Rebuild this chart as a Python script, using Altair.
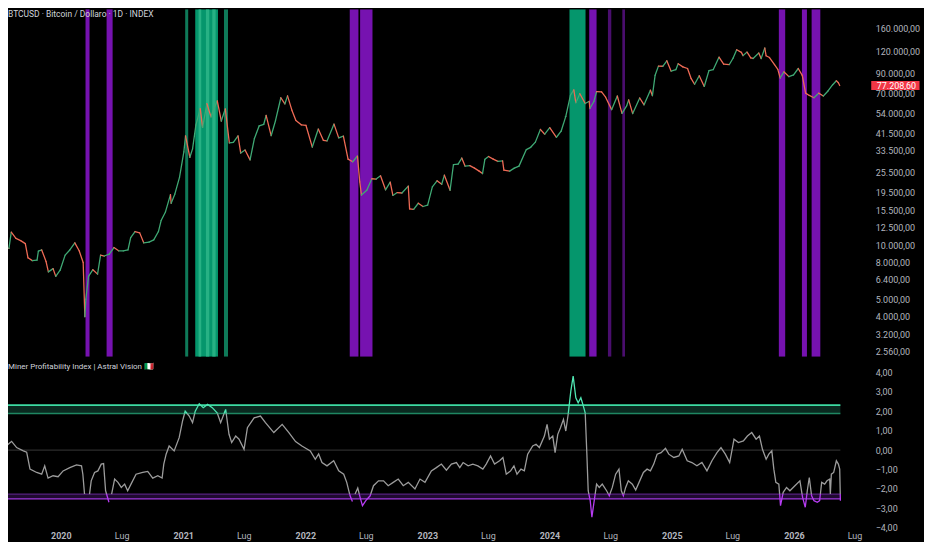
import altair as alt
import numpy as np
import pandas as pd

# ----------------------------------------------------------------- data
ORIGIN = "2019-07-01"  # oscillator / band day offsets count from this date

price_2019 = [("2019-07-01", 11900), ("2019-07-09", 12600), ("2019-07-17", 9700), ("2019-07-30", 9600),
              ("2019-08-06", 11800), ("2019-08-20", 10900), ("2019-09-03", 10600), ("2019-09-17", 10200),
              ("2019-09-25", 8500), ("2019-10-08", 8200), ("2019-10-22", 8250), ("2019-10-26", 9250),
              ("2019-11-05", 9400), ("2019-11-18", 8100), ("2019-11-25", 7100), ("2019-12-09", 7400),
              ("2019-12-17", 6700), ("2019-12-30", 7250)]
price_2020 = [("2020-01-14", 8800), ("2020-01-28", 9400), ("2020-02-12", 10300), ("2020-02-25", 9300),
              ("2020-03-08", 8000), ("2020-03-13", 4000), ("2020-03-16", 5000), ("2020-03-24", 6700),
              ("2020-04-06", 7300), ("2020-04-20", 6900), ("2020-04-29", 8800), ("2020-05-10", 8700),
              ("2020-05-25", 8900), ("2020-06-08", 9700), ("2020-06-22", 9300), ("2020-07-06", 9300),
              ("2020-07-20", 9400), ("2020-07-28", 11000), ("2020-08-10", 11900), ("2020-08-24", 11700),
              ("2020-09-05", 10300), ("2020-09-21", 10400), ("2020-10-05", 10700), ("2020-10-19", 11900),
              ("2020-10-27", 13700), ("2020-11-09", 15300), ("2020-11-24", 19100), ("2020-11-26", 17100),
              ("2020-12-07", 19200), ("2020-12-21", 23800)]
price_2021 = [("2021-01-03", 33000), ("2021-01-08", 40500), ("2021-01-21", 30800), ("2021-01-29", 34300),
              ("2021-02-08", 46500), ("2021-02-21", 57400), ("2021-02-28", 45200), ("2021-03-13", 61200),
              ("2021-03-25", 51700), ("2021-04-05", 58700), ("2021-04-13", 63500), ("2021-04-25", 49000),
              ("2021-05-07", 57300), ("2021-05-19", 37000), ("2021-05-31", 37300), ("2021-06-14", 40500),
              ("2021-06-22", 32500), ("2021-07-05", 33800), ("2021-07-20", 29800), ("2021-08-02", 39200),
              ("2021-08-16", 46000), ("2021-08-30", 47000), ("2021-09-06", 52700), ("2021-09-21", 40600),
              ("2021-10-04", 49200), ("2021-10-20", 66000), ("2021-11-01", 61000), ("2021-11-09", 67600),
              ("2021-11-22", 56300), ("2021-12-04", 49400), ("2021-12-20", 46700)]
price_2022 = [("2022-01-03", 46400), ("2022-01-22", 35100), ("2022-02-09", 44200), ("2022-02-24", 38300),
              ("2022-03-07", 38000), ("2022-03-28", 47100), ("2022-04-11", 39500), ("2022-04-25", 40400),
              ("2022-05-09", 30100), ("2022-05-23", 29100), ("2022-06-06", 31300), ("2022-06-13", 22500),
              ("2022-06-18", 19000), ("2022-07-04", 20200), ("2022-07-19", 23400), ("2022-08-01", 23300),
              ("2022-08-14", 24300), ("2022-08-29", 20300), ("2022-09-12", 22400), ("2022-09-20", 18900),
              ("2022-10-03", 19600), ("2022-10-17", 19500), ("2022-11-05", 21300), ("2022-11-09", 15900),
              ("2022-11-21", 15800), ("2022-12-05", 17100), ("2022-12-19", 16400)]
price_2023 = [("2023-01-02", 16700), ("2023-01-16", 21100), ("2023-01-30", 22800), ("2023-02-13", 21800),
              ("2023-02-21", 24500), ("2023-03-10", 20200), ("2023-03-20", 28000), ("2023-04-03", 28200),
              ("2023-04-14", 30500), ("2023-04-24", 27500), ("2023-05-08", 27700), ("2023-05-22", 26800),
              ("2023-06-05", 25800), ("2023-06-15", 25000), ("2023-06-22", 30000), ("2023-07-03", 31100),
              ("2023-07-17", 30100), ("2023-07-31", 29200), ("2023-08-14", 29400), ("2023-08-18", 26100),
              ("2023-09-04", 25800), ("2023-09-18", 26800), ("2023-10-02", 27500), ("2023-10-24", 34000),
              ("2023-11-06", 35000), ("2023-11-20", 37400), ("2023-12-05", 44000), ("2023-12-18", 41400)]
price_2024 = [("2024-01-02", 45000), ("2024-01-22", 39800), ("2024-02-05", 43000), ("2024-02-19", 52000),
              ("2024-03-04", 68300), ("2024-03-14", 73000), ("2024-03-20", 62000), ("2024-04-01", 69500),
              ("2024-04-17", 61300), ("2024-04-29", 63100), ("2024-05-01", 57500), ("2024-05-13", 62900),
              ("2024-05-21", 71400), ("2024-06-05", 71100), ("2024-06-17", 66500), ("2024-07-05", 56700),
              ("2024-07-22", 67500), ("2024-08-05", 54000), ("2024-08-19", 59500), ("2024-08-25", 64200),
              ("2024-09-06", 53900), ("2024-09-27", 65800), ("2024-10-10", 60300), ("2024-10-29", 72700),
              ("2024-11-04", 67800), ("2024-11-12", 88000), ("2024-11-22", 99000), ("2024-12-05", 98800),
              ("2024-12-17", 106000), ("2024-12-30", 92800)]
price_2025 = [("2025-01-13", 94500), ("2025-01-20", 102000), ("2025-02-03", 98000), ("2025-02-17", 96000),
              ("2025-02-28", 84300), ("2025-03-10", 78500), ("2025-03-24", 87500), ("2025-04-08", 76300),
              ("2025-04-22", 93500), ("2025-05-05", 94700), ("2025-05-22", 111000), ("2025-06-05", 101500),
              ("2025-06-22", 101000), ("2025-07-03", 109500), ("2025-07-14", 122000), ("2025-07-28", 118000),
              ("2025-08-02", 113200), ("2025-08-14", 118500), ("2025-08-25", 110000), ("2025-09-01", 109200),
              ("2025-09-18", 117000), ("2025-09-25", 109000), ("2025-10-06", 124800), ("2025-10-10", 113000),
              ("2025-10-20", 110500), ("2025-11-04", 101000), ("2025-11-14", 95000), ("2025-11-21", 85000),
              ("2025-12-02", 92000), ("2025-12-17", 86500), ("2025-12-31", 88500)]
price_2026 = [("2026-01-14", 96000), ("2026-01-26", 88000), ("2026-02-05", 70000), ("2026-02-16", 68000),
              ("2026-03-02", 66000), ("2026-03-16", 70000), ("2026-03-30", 67500), ("2026-04-13", 72000),
              ("2026-04-27", 78000), ("2026-05-08", 82000), ("2026-05-14", 80000), ("2026-05-18", 77208.60)]

# oscillator: (day offset from ORIGIN, value)
osc_2019_2021 = [(2, 0.81), (12, 0.64), (17, 0.15), (27, 0.30), (37, 0.45), (52, 0.13), (72, -0.04),
                 (82, -0.11), (92, -0.98), (112, -1.15), (127, -1.24), (136, -0.81), (146, -1.44),
                 (161, -1.32), (176, -1.37), (191, -1.07), (211, -0.90), (231, -0.76), (246, -0.81),
                 (250, -1.24), (255, -2.26), (262, -2.81), (270, -2.26), (275, -1.58), (285, -1.15),
                 (295, -1.07), (305, -0.72), (312, -0.69), (318, -2.09), (328, -2.68), (336, -2.26),
                 (345, -1.49), (355, -1.66), (365, -1.92), (375, -1.75), (384, -2.09), (394, -1.75),
                 (409, -1.24), (429, -1.15), (444, -1.10), (459, -1.44), (474, -1.32), (487, -1.44),
                 (492, -0.72), (499, -0.21), (508, 0.21), (523, -0.04), (538, 0.64), (548, 1.49),
                 (556, 2.00), (568, 1.75), (578, 1.41), (586, 2.00), (598, 2.38), (610, 2.18),
                 (623, 2.35), (637, 2.18), (652, 1.90), (662, 1.41), (677, 2.09), (687, 0.81),
                 (695, 0.39), (707, 0.72), (717, 0.56), (732, 0.04), (742, 1.15), (762, 1.66),
                 (781, 1.75), (796, 1.41), (821, 0.90), (846, 1.32), (866, 0.90), (886, 0.44),
                 (905, 0.21), (930, -0.04), (945, -0.47), (955, -0.20)]
osc_2022_2023 = [(965, -0.64), (980, -0.81), (1000, -0.55), (1015, -1.07), (1030, -1.24), (1039, -1.66),
                 (1049, -2.35), (1056, -2.64), (1064, -2.26), (1072, -1.95), (1079, -2.43), (1086, -2.86),
                 (1096, -2.60), (1109, -2.35), (1119, -1.83), (1134, -1.58), (1149, -1.58), (1163, -1.83),
                 (1178, -1.66), (1193, -1.49), (1208, -1.83), (1223, -1.66), (1243, -2.00), (1258, -1.49),
                 (1273, -1.66), (1292, -1.07), (1307, -0.90), (1322, -0.72), (1337, -1.03), (1352, -0.72),
                 (1367, -0.64), (1377, -0.90), (1387, -0.64), (1402, -0.81), (1416, -0.72), (1431, -0.81),
                 (1446, -0.98), (1456, -0.72), (1469, -0.30), (1481, -0.72), (1496, -0.55), (1506, -0.38),
                 (1516, -1.24), (1529, -1.07), (1539, -0.81), (1548, -1.24), (1560, -0.98), (1570, -1.07),
                 (1580, -0.21), (1595, 0.21), (1605, 0.30), (1615, 0.13), (1630, 0.72), (1638, 1.32)]
osc_2024 = [(1645, 0.56), (1655, 0.72), (1662, -0.13), (1670, 0.81), (1678, 1.15), (1687, 1.58),
            (1694, 0.98), (1701, 1.83), (1709, 3.03), (1716, 3.80), (1724, 2.69), (1731, 2.43),
            (1739, 2.69), (1745, 2.35), (1752, 1.92), (1757, -0.21), (1761, -2.09), (1767, -2.60),
            (1772, -3.45), (1779, -2.60), (1786, -1.75), (1794, -1.92), (1803, -1.75), (1816, -2.09),
            (1824, -2.35), (1833, -1.92), (1843, -1.24), (1853, -0.98), (1860, -2.09), (1866, -2.35),
            (1873, -1.92), (1881, -1.58), (1893, -1.75), (1903, -2.05), (1913, -1.66), (1926, -1.15),
            (1937, -0.98), (1947, -1.07), (1957, -0.72), (1967, -0.21), (1979, -0.13), (1992, 0.09),
            (2002, -0.21)]
osc_2025_2026 = [(2017, -0.38), (2032, -0.30), (2042, 0.04), (2057, -0.55), (2071, -0.64), (2086, -0.81),
                 (2101, -0.64), (2116, -1.07), (2131, -0.55), (2146, -0.13), (2158, 0.13), (2171, -0.21),
                 (2184, -0.64), (2197, 0.56), (2210, 0.39), (2225, 0.47), (2237, 0.72), (2250, 0.90),
                 (2263, 0.56), (2273, 0.72), (2282, 0.04), (2293, -0.47), (2301, -0.21), (2310, -0.04),
                 (2316, -0.98), (2322, -1.66), (2331, -1.75), (2336, -2.86), (2344, -2.17), (2354, -1.92),
                 (2364, -2.09), (2379, -1.83), (2394, -1.58), (2402, -2.43), (2410, -2.94), (2416, -2.09),
                 (2422, -1.41), (2429, -2.35), (2436, -2.60), (2446, -2.68), (2453, -2.60), (2459, -1.66),
                 (2468, -1.75), (2475, -1.58), (2483, -1.49), (2485, -2.26), (2488, -1.24), (2495, -1.15),
                 (2503, -0.55), (2509, -0.72), (2513, -0.98), (2515, -2.60)]

# background zones on the price pane: (start day, end day, kind)
zones_bear = [(258, 270, "bear"), (321, 339, "bear"), (1048, 1074, "bear"), (1079, 1116, "bear"),
              (1764, 1786, "bear"), (1820, 1830, "bear_weak"), (1863, 1871, "bear_weak"),
              (2331, 2350, "bear"), (2400, 2415, "bear"), (2429, 2455, "bear")]
zones_bull = [(556, 565, "bull_weak"), (586, 654, "bull"), (596, 604, "bull_strong"),
              (618, 628, "bull_strong"), (637, 647, "bull_strong"), (672, 684, "bull_weak"),
              (1705, 1753, "bull")]

UPPER_OUTER, UPPER_INNER, LOWER_INNER, LOWER_OUTER = 2.31, 1.88, -2.26, -2.51

price_ticks = [2560, 3200, 4000, 5000, 6400, 8000, 10000, 12500, 15500, 19500, 25500, 33500,
               41500, 54000, 70000, 90000, 120000, 160000, 220000]
osc_ticks = [-4, -3, -2, -1, 0, 1, 2, 3, 4]
tick_years = [2020, 2021, 2022, 2023, 2024, 2025, 2026]

chart_title = "BTCUSD · Bitcoin / Dollaro · 1D · INDEX"
osc_title = "Miner Profitability Index | Astral Vision 🇮🇹"

# ----------------------------------------------------------------- helpers
W, H_TOP, H_BOT = 864, 349, 172
FONT = "Roboto"
LABEL = "#b2b5be"


def day_to_iso(day):
    ts = pd.Timestamp(ORIGIN) + pd.to_timedelta(day, unit="D")
    return ts.strftime("%Y-%m-%dT%H:%M:%SZ")


X_SCALE = alt.Scale(type="utc", domain=[
    alt.DateTime(year=2019, month=7, date=27, hours=5, utc=True),
    alt.DateTime(year=2026, month=8, date=11, hours=7, utc=True)])
Y_PRICE = alt.Scale(type="log", domain=[2398, 205270], nice=False)
Y_OSC = alt.Scale(domain=[-4.051, 4.752], nice=False, zero=False)

X_AXIS_BOT = alt.Axis(
    values=[alt.DateTime(year=y, month=m, date=1, utc=True) for y in tick_years for m in (1, 7)],
    labelExpr="utcmonth(datum.value) == 0 ? utcFormat(datum.value, '%Y') : 'Lug'",
    ticks=False, domain=False, grid=False, labelColor=LABEL, labelFontSize=9,
    labelFont=FONT, labelPadding=3, labelOverlap=False, labelFlush=False, title=None,
    labelFontWeight={"condition": {"test": "utcmonth(datum.value) == 0", "value": "bold"},
                     "value": "normal"})
Y_AXIS_BOT = alt.Axis(orient="right", values=osc_ticks, format=",.2f", ticks=False, domain=False,
                      grid=False, labelColor=LABEL, labelFontSize=9, labelFont=FONT,
                      labelPadding=7, labelOverlap=False, title=None)
Y_AXIS_TOP = alt.Axis(orient="right", values=price_ticks, format=",.2f", ticks=False,
                      domain=False, grid=False, labelColor=LABEL, labelFontSize=9,
                      labelFont=FONT, labelPadding=7, labelOverlap=False, title=None)

# ----------------------------------------------------------------- top pane
prices = pd.DataFrame(price_2019 + price_2020 + price_2021 + price_2022 + price_2023
                      + price_2024 + price_2025 + price_2026, columns=["date", "close"])
prices["date"] = prices["date"] + "T00:00:00Z"
seg = prices.copy()
seg["prev_date"] = seg["date"].shift(1)
seg["prev_close"] = seg["close"].shift(1)
seg = seg.dropna().reset_index(drop=True)
seg["dir"] = np.where(seg["close"] >= seg["prev_close"], "up", "down")

zones = pd.DataFrame(zones_bear + zones_bull, columns=["s", "e", "kind"])
zones["start"] = zones["s"].map(day_to_iso)
zones["end"] = zones["e"].map(day_to_iso)
zone_order = {"bull": 0, "bear": 0, "bear_weak": 0, "bull_weak": 0, "bull_strong": 1}
zones["o"] = zones["kind"].map(zone_order)
zones = zones.sort_values("o")

band_layer = alt.Chart(zones).mark_rect(clip=True).encode(
    x=alt.X("start:T", scale=X_SCALE, axis=None),
    x2="end:T",
    y=alt.value(0),
    y2=alt.value(H_TOP),
    color=alt.Color("kind:N", legend=None, scale=alt.Scale(
        domain=["bull", "bull_strong", "bull_weak", "bear", "bear_weak"],
        range=["#05966c", "#27b184", "#0f7a59", "#7612b0", "#4a0e6e"])),
)

price_layer = alt.Chart(seg).mark_rule(strokeWidth=1.3, strokeCap="round", clip=True).encode(
    x=alt.X("prev_date:T", scale=X_SCALE, axis=None),
    x2="date:T",
    y=alt.Y("prev_close:Q", scale=Y_PRICE, axis=Y_AXIS_TOP),
    y2="close:Q",
    color=alt.Color("dir:N", legend=None,
                    scale=alt.Scale(domain=["up", "down"], range=["#3fa874", "#ee6a55"])),
)

last = prices.tail(1)
last_box = alt.Chart(last).mark_rule(strokeWidth=9, color="#f23645").encode(
    x=alt.value(867), x2=alt.value(915.5), y=alt.Y("close:Q", scale=Y_PRICE, axis=Y_AXIS_TOP))
last_text = alt.Chart(last).mark_text(align="left", baseline="middle", fontSize=9, font=FONT,
                                      color="#ffffff").encode(
    x=alt.value(872.5), y=alt.Y("close:Q", scale=Y_PRICE, axis=Y_AXIS_TOP),
    text=alt.Text("close:Q", format=",.2f"))

title_top = alt.Chart(pd.DataFrame({"t": [chart_title]})).mark_text(
    align="left", baseline="middle", fontSize=8.5, font=FONT, color="#d1d4dc").encode(
    x=alt.value(0), y=alt.value(5), text="t:N")

top = alt.layer(band_layer, price_layer, last_box, last_text, title_top).resolve_scale(
    color="independent").properties(width=W, height=H_TOP)

# ----------------------------------------------------------------- bottom pane
osc = pd.DataFrame(osc_2019_2021 + osc_2022_2023 + osc_2024 + osc_2025_2026, columns=["day", "v"])


def zone_of(v):
    if v > UPPER_INNER:
        return "bull"
    if v < LOWER_INNER:
        return "bear"
    return "neutral"


rows = []
run = 0
cur = zone_of(osc.v.iloc[0])
rows.append(dict(run=run, day=float(osc.day.iloc[0]), v=osc.v.iloc[0], zone=cur))
for i in range(1, len(osc)):
    d0, v0 = float(osc.day.iloc[i - 1]), osc.v.iloc[i - 1]
    d1, v1 = float(osc.day.iloc[i]), osc.v.iloc[i]
    if zone_of(v1) != cur:
        crossings = []
        for thr in (UPPER_INNER, LOWER_INNER):
            if (v0 - thr) * (v1 - thr) < 0:
                crossings.append(((thr - v0) / (v1 - v0), thr))
        crossings.sort()
        for t, thr in crossings:
            dc = d0 + t * (d1 - d0)
            rows.append(dict(run=run, day=dc, v=thr, zone=cur))
            run += 1
            cur = zone_of(thr + (0.001 if v1 > v0 else -0.001))
            rows.append(dict(run=run, day=dc, v=thr, zone=cur))
        if zone_of(v1) != cur:
            run += 1
            cur = zone_of(v1)
    rows.append(dict(run=run, day=d1, v=v1, zone=cur))
osc_runs = pd.DataFrame(rows)
osc_runs["date"] = osc_runs["day"].map(day_to_iso)

first_date = day_to_iso(osc.day.iloc[0])
last_date = day_to_iso(osc.day.iloc[-1])

fills = pd.DataFrame({"a": [UPPER_OUTER, LOWER_INNER], "b": [UPPER_INNER, LOWER_OUTER],
                      "kind": ["bull", "bear"], "s": [first_date] * 2, "e": [last_date] * 2})
levels = pd.DataFrame({"lvl": [UPPER_OUTER, UPPER_INNER, 0.0, LOWER_INNER, LOWER_OUTER],
                       "name": ["uo", "ui", "zero", "li", "lo"],
                       "s": [first_date] * 5, "e": [last_date] * 5})

fill_layer = alt.Chart(fills).mark_rect(clip=True).encode(
    x=alt.X("s:T", scale=X_SCALE, axis=X_AXIS_BOT), x2="e:T",
    y=alt.Y("a:Q", scale=Y_OSC, axis=Y_AXIS_BOT), y2="b:Q",
    color=alt.Color("kind:N", legend=None,
                    scale=alt.Scale(domain=["bull", "bear"], range=["#0a2a20", "#1f0a30"])),
)

level_layer = alt.Chart(levels).mark_rule(clip=True).encode(
    x=alt.X("s:T", scale=X_SCALE, axis=X_AXIS_BOT), x2="e:T",
    y=alt.Y("lvl:Q", scale=Y_OSC, axis=Y_AXIS_BOT),
    color=alt.Color("name:N", legend=None, scale=alt.Scale(
        domain=["uo", "ui", "zero", "li", "lo"],
        range=["#3ddca3", "#1f8762", "#2c2c2c", "#56207e", "#9f38dc"])),
    strokeWidth=alt.StrokeWidth("name:N", legend=None, scale=alt.Scale(
        domain=["uo", "ui", "zero", "li", "lo"], range=[1.6, 1.1, 1.0, 1.1, 1.6])),
)

osc_layer = alt.Chart(osc_runs).mark_line(strokeWidth=1.3, clip=True).encode(
    x=alt.X("date:T", scale=X_SCALE, axis=X_AXIS_BOT),
    y=alt.Y("v:Q", scale=Y_OSC, axis=Y_AXIS_BOT),
    detail="run:N",
    order="day:Q",
    color=alt.Color("zone:N", legend=None, scale=alt.Scale(
        domain=["neutral", "bull", "bear"], range=["#9c9c9c", "#4fe6b2", "#b63cf2"])),
)

title_bot = alt.Chart(pd.DataFrame({"t": [osc_title]})).mark_text(
    align="left", baseline="middle", fontSize=8, font=FONT, color="#d1d4dc").encode(
    x=alt.value(0), y=alt.value(9), text="t:N")

bottom = alt.layer(fill_layer, level_layer, osc_layer, title_bot).resolve_scale(
    color="independent").properties(width=W, height=H_BOT)

chart = alt.vconcat(top, bottom, spacing=1).properties(
    background="#000000", padding=0
).configure(
    locale={"number": {"decimal": ",", "thousands": ".", "grouping": [3], "currency": ["", " €"]}},
    font=FONT,
).configure_view(strokeWidth=0)

chart.save("out.html", embed_options={"renderer": "svg", "actions": False})
